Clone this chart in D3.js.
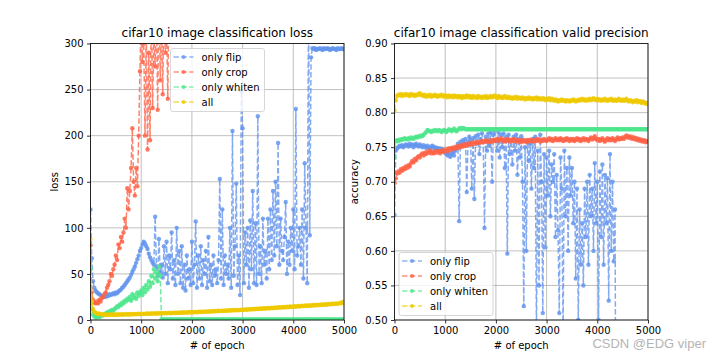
<!DOCTYPE html>
<html><head><meta charset="utf-8">
<script src="https://cdn.jsdelivr.net/npm/d3@7/dist/d3.min.js"></script>
<style>
html,body{margin:0;padding:0;background:#fff;}
svg{display:block;font-family:"DejaVu Sans",sans-serif;}
</style></head>
<body><svg id="c" width="720" height="360"></svg>
<script>
// ---------- data (epochs sampled every 25) ----------
const epochs = d3.range(0, 5001, 25);
const seriesNames = ["only flip", "only crop", "only whiten", "all"];
const seriesColors = ["#6495ED", "#FF6347", "#4EE68C", "#EEC900"];
const lossTicks = [0, 50, 100, 150, 200, 250, 300];
const accTicks = [0.50, 0.55, 0.60, 0.65, 0.70, 0.75, 0.80, 0.85, 0.90];
const epochTicks = [0, 1000, 2000, 3000, 4000, 5000];

const lossFlip = [
120,67,42,35,32,30,29,28,27,26,
25,26,25,27,26,28,27,28,29,28,
30,29,31,32,33,35,36,38,40,42,
44,46,49,52,55,58,62,66,70,75,
78,82,85,83,80,77,72,68,65,62,
60,112,58,48,88,52,60,46,80,50,
85,40,70,55,95,45,65,38,100,50,
75,40,80,35,60,32,70,45,55,38,
85,40,60,107,35,70,45,80,38,65,
50,75,35,90,42,60,38,70,48,55,
40,65,153,45,120,38,70,50,60,45,
100,35,205,48,80,148,38,70,27,248,
208,40,95,60,100,35,108,55,140,40,
105,38,221,50,80,40,110,60,75,45,
110,55,120,65,140,70,150,80,192,60,
110,75,65,90,128,50,85,60,100,75,
120,55,229,70,80,100,60,120,45,170,
100,40,350,92,285,295,294,295,293,294,
294,295,294,293,295,294,294,295,294,293,
294,295,294,294,293,295,294,294,295,294,
294];
const lossCrop = [
81,30,22,19,18,20,18,22,20,24,
25,28,30,35,38,42,50,48,55,60,
70,65,82,78,90,85,95,110,100,143,
120,140,165,208,150,135,165,145,200,270,
330,280,300,200,320,185,290,195,350,230,
310,275,340,228,380,260,330,245,360,290,
320,240,380,450,500,520,600,650,700,720,
750,780,800,820,850,870,900,920,950,980,
1000,1020,1050,1080,1100,1120,1150,1180,1200,1220,
1250,1270,1300,1320,1350,1370,1400,1420,1450,1470,
1500,1520,1550,1570,1600,1620,1650,1670,1700,1720,
1750,1770,1800,1820,1850,1870,1900,1920,1950,1970,
2000,2020,2050,2070,2100,2120,2150,2170,2200,2220,
2250,2270,2300,2320,2350,2370,2400,2420,2450,2470,
2500,2520,2550,2570,2600,2620,2650,2670,2700,2720,
2750,2770,2800,2820,2850,2870,2900,2920,2950,2970,
3000,3020,3050,3070,3100,3120,3150,3170,3200,3220,
3250,3270,3300,3320,3350,3370,3400,3420,3450,3470,
3500,3520,3550,3570,3600,3620,3650,3670,3700,3720,
3750,3770,3800,3820,3850,3870,3900,3920,3950,3970,
4000];
const lossWhiten = [
55,12,6,4,3,3,4,3,4,5,
5,6,7,8,9,8,10,11,10,12,
13,15,14,17,16,19,18,21,20,23,
22,25,21,28,24,27,23,30,26,29,
32,27,35,30,38,33,42,36,48,40,
55,45,52,42,58,48,0.5,0.5,0.5,0.5,
0.5,0.5,0.5,0.5,0.5,0.5,0.5,0.5,0.5,0.5,
0.5,0.5,0.5,0.5,0.5,0.5,0.5,0.5,0.5,0.5,
0.5,0.5,0.5,0.5,0.5,0.5,0.5,0.5,0.5,0.5,
0.5,0.5,0.5,0.5,0.5,0.5,0.5,0.5,0.5,0.5,
0.5,0.5,0.5,0.5,0.5,0.5,0.5,0.5,0.5,0.5,
0.5,0.5,0.5,0.5,0.5,0.5,0.5,0.5,0.5,0.5,
0.5,0.5,0.5,0.5,0.5,0.5,0.5,0.5,0.5,0.5,
0.5,0.5,0.5,0.5,0.5,0.5,0.5,0.5,0.5,0.5,
0.5,0.5,0.5,0.5,0.5,0.5,0.5,0.5,0.5,0.5,
0.5,0.5,0.5,0.5,0.5,0.5,0.5,0.5,0.5,0.5,
0.5,0.5,0.5,0.5,0.5,0.5,0.5,0.5,0.5,0.5,
0.5,0.5,0.5,0.5,0.5,0.5,0.5,0.5,0.5,0.5,
0.5,0.5,0.5,0.5,0.5,0.5,0.5,0.5,0.5,0.5,
0.5,0.5,0.5,0.5,0.5,0.5,0.5,0.5,0.5,0.5,
0.5];
const lossAll = [
88,20,12,9,8,7,7,6.5,6.5,6,
6,6,5.5,6,5.5,6,5.8,6,5.5,6,
6,5.5,6.2,5.8,6,6.3,5.8,6.1,6.4,6,
6.2,6,6.5,6.1,6.3,6.6,6.2,6.4,6.7,6.3,
6.5,6.8,6.4,6.6,7,6.7,6.9,7.1,6.8,7,
7.2,6.9,7.1,7.4,7,7.3,7.5,7.2,7.4,7.6,
7.3,7.5,7.8,7.4,7.6,7.9,7.5,7.8,8,7.7,
7.9,8.2,7.8,8.1,8.3,8,8.2,8.5,8.1,8.4,
8.6,8.2,8.5,8.8,8.4,8.7,9,8.6,8.9,9.1,
8.8,9.1,9.4,9,9.3,9.6,9.2,9.5,9.8,9.4,
9.7,10,9.6,9.9,10.2,9.8,10.1,10.4,10,10.3,
10.6,10.2,10.5,10.8,10.4,10.7,11,10.6,10.9,11.2,
10.8,11.1,11.5,11.1,11.4,11.8,11.3,11.7,12,11.6,
11.9,12.3,11.8,12.2,12.5,12.1,12.4,12.8,12.3,12.7,
13,12.6,12.9,13.3,12.8,13.2,13.6,13.1,13.5,13.8,
13.4,13.7,14.1,13.6,14,14.4,13.9,14.3,14.6,14.2,
14.5,14.9,14.4,14.8,15.2,14.7,15.1,15.5,15,15.4,
15.7,15.2,15.6,16,15.5,15.9,16.3,15.8,16.2,16.5,
16,16.4,16.8,16.3,16.7,17.1,16.6,17,17.4,16.9,
17.3,17.7,17.2,17.6,18,17.5,18,18.5,19,18.2,
20];

const accFlip = [
0.652,0.745,0.748,0.750,0.752,0.751,0.753,0.750,0.752,0.754,
0.753,0.751,0.755,0.752,0.754,0.750,0.753,0.755,0.752,0.751,
0.754,0.752,0.750,0.753,0.751,0.749,0.752,0.750,0.748,0.751,
0.752,0.749,0.750,0.747,0.749,0.746,0.748,0.745,0.747,0.744,
0.742,0.740,0.738,0.741,0.736,0.739,0.743,0.738,0.745,0.748,
0.755,0.643,0.758,0.752,0.760,0.755,0.762,0.685,0.758,0.765,
0.760,0.690,0.763,0.675,0.766,0.755,0.768,0.740,0.762,0.770,
0.758,0.633,0.765,0.745,0.770,0.752,0.772,0.700,0.768,0.775,
0.760,0.745,0.772,0.735,0.768,0.750,0.770,0.720,0.765,0.596,
0.768,0.740,0.760,0.725,0.765,0.745,0.768,0.710,0.762,0.735,
0.766,0.700,0.520,0.750,0.600,0.760,0.730,0.755,0.690,0.762,
0.720,0.765,0.480,0.745,0.550,0.768,0.700,0.510,0.740,0.605,
0.735,0.680,0.745,0.650,0.725,0.700,0.740,0.620,0.710,0.630,
0.510,0.735,0.690,0.480,0.745,0.650,0.720,0.600,0.735,0.680,
0.720,0.640,0.700,0.560,0.690,0.500,0.660,0.580,0.640,0.550,
0.690,0.620,0.700,0.580,0.710,0.650,0.690,0.600,0.727,0.640,
0.700,0.500,0.715,0.620,0.725,0.580,0.710,0.640,0.705,0.528,
0.740,0.600,0.700,0.585,0.660,0.100,0.100,0.100,0.100,0.100,
0.100,0.100,0.100,0.100,0.100,0.100,0.100,0.100,0.100,0.100,
0.100,0.100,0.100,0.100,0.100,0.100,0.100,0.100,0.100,0.100,
0.100];
const accCrop = [
0.698,0.705,0.712,0.715,0.713,0.718,0.716,0.720,0.718,0.722,
0.720,0.724,0.722,0.727,0.730,0.728,0.733,0.731,0.735,0.737,
0.735,0.739,0.741,0.738,0.742,0.740,0.744,0.742,0.745,0.741,
0.743,0.741,0.744,0.742,0.745,0.743,0.741,0.744,0.746,0.743,
0.745,0.747,0.744,0.748,0.746,0.749,0.747,0.750,0.748,0.751,
0.749,0.752,0.750,0.753,0.751,0.754,0.752,0.755,0.753,0.754,
0.756,0.754,0.757,0.755,0.757,0.756,0.758,0.756,0.757,0.759,
0.757,0.758,0.760,0.758,0.759,0.757,0.760,0.758,0.761,0.759,
0.760,0.762,0.759,0.761,0.763,0.760,0.758,0.761,0.759,0.762,
0.760,0.758,0.761,0.759,0.762,0.760,0.758,0.761,0.759,0.757,
0.760,0.758,0.761,0.759,0.757,0.760,0.758,0.761,0.759,0.760,
0.758,0.761,0.759,0.762,0.760,0.758,0.761,0.759,0.762,0.760,
0.759,0.761,0.763,0.760,0.762,0.759,0.761,0.763,0.760,0.762,
0.760,0.763,0.761,0.759,0.762,0.760,0.763,0.761,0.759,0.762,
0.760,0.762,0.759,0.761,0.763,0.760,0.762,0.759,0.761,0.763,
0.760,0.762,0.761,0.759,0.762,0.764,0.761,0.763,0.766,0.762,
0.760,0.762,0.759,0.761,0.763,0.760,0.758,0.761,0.763,0.760,
0.762,0.760,0.763,0.761,0.759,0.762,0.764,0.761,0.763,0.762,
0.764,0.762,0.765,0.767,0.764,0.766,0.763,0.765,0.762,0.764,
0.761,0.763,0.760,0.762,0.759,0.761,0.758,0.760,0.757,0.759,
0.758];
const accWhiten = [
0.735,0.758,0.760,0.759,0.761,0.760,0.762,0.761,0.763,0.762,
0.761,0.763,0.762,0.764,0.763,0.762,0.764,0.765,0.764,0.766,
0.765,0.767,0.766,0.768,0.770,0.772,0.775,0.774,0.773,0.772,
0.774,0.773,0.775,0.774,0.773,0.775,0.774,0.772,0.773,0.775,
0.774,0.772,0.774,0.776,0.775,0.773,0.775,0.777,0.774,0.773,
0.775,0.777,0.778,0.776,0.778,0.777,0.776,0.776,0.776,0.776,
0.776,0.776,0.776,0.776,0.776,0.776,0.776,0.776,0.776,0.776,
0.776,0.776,0.776,0.776,0.776,0.776,0.776,0.776,0.776,0.776,
0.776,0.776,0.776,0.776,0.776,0.776,0.776,0.776,0.776,0.776,
0.776,0.776,0.776,0.776,0.776,0.776,0.776,0.776,0.776,0.776,
0.776,0.776,0.776,0.776,0.776,0.776,0.776,0.776,0.776,0.776,
0.776,0.776,0.776,0.776,0.776,0.776,0.776,0.776,0.776,0.776,
0.776,0.776,0.776,0.776,0.776,0.776,0.776,0.776,0.776,0.776,
0.776,0.776,0.776,0.776,0.776,0.776,0.776,0.776,0.776,0.776,
0.776,0.776,0.776,0.776,0.776,0.776,0.776,0.776,0.776,0.776,
0.776,0.776,0.776,0.776,0.776,0.776,0.776,0.776,0.776,0.776,
0.776,0.776,0.776,0.776,0.776,0.776,0.776,0.776,0.776,0.776,
0.776,0.776,0.776,0.776,0.776,0.776,0.776,0.776,0.776,0.776,
0.776,0.776,0.776,0.776,0.776,0.776,0.776,0.776,0.776,0.776,
0.776,0.776,0.776,0.776,0.776,0.776,0.776,0.776,0.776,0.776,
0.776];
const accAll = [
0.803,0.818,0.824,0.826,0.825,0.827,0.824,0.826,0.825,0.827,
0.825,0.826,0.824,0.827,0.825,0.826,0.824,0.826,0.825,0.827,
0.828,0.825,0.826,0.824,0.826,0.823,0.825,0.824,0.826,0.823,
0.825,0.824,0.826,0.824,0.823,0.825,0.824,0.826,0.825,0.823,
0.825,0.824,0.822,0.825,0.823,0.824,0.822,0.825,0.823,0.824,
0.822,0.824,0.823,0.821,0.824,0.822,0.823,0.825,0.822,0.824,
0.823,0.821,0.824,0.822,0.823,0.821,0.824,0.822,0.823,0.821,
0.823,0.822,0.824,0.821,0.823,0.822,0.824,0.822,0.823,0.825,
0.823,0.821,0.824,0.822,0.823,0.821,0.822,0.824,0.822,0.821,
0.823,0.821,0.822,0.820,0.822,0.821,0.823,0.820,0.822,0.821,
0.820,0.822,0.821,0.819,0.821,0.820,0.822,0.820,0.821,0.819,
0.821,0.820,0.822,0.819,0.821,0.820,0.819,0.821,0.820,0.818,
0.820,0.819,0.821,0.818,0.820,0.819,0.817,0.819,0.818,0.816,
0.818,0.817,0.819,0.817,0.818,0.816,0.818,0.817,0.816,0.818,
0.817,0.819,0.818,0.816,0.818,0.817,0.819,0.818,0.820,0.818,
0.819,0.817,0.819,0.818,0.820,0.818,0.819,0.821,0.819,0.818,
0.820,0.818,0.819,0.817,0.819,0.818,0.820,0.818,0.817,0.819,
0.818,0.820,0.818,0.817,0.819,0.817,0.818,0.820,0.818,0.817,
0.819,0.817,0.818,0.820,0.817,0.816,0.818,0.817,0.815,0.817,
0.816,0.818,0.815,0.817,0.816,0.814,0.816,0.815,0.813,0.814,
0.812];

// ---------- drawing ----------
const svg = d3.select("#c");
const plotTop = 43.5, plotBottom = 320;

function panel(cfg) {
  const x = d3.scaleLinear().domain([0, 5000]).range([cfg.left, cfg.right]);
  const y = d3.scaleLinear().domain(cfg.ydomain).range([plotBottom, plotTop]);
  const g = svg.append("g");
  const clipId = "clip" + cfg.id;
  svg.append("clipPath").attr("id", clipId).append("rect")
    .attr("x", cfg.left).attr("y", plotTop).attr("width", cfg.right - cfg.left).attr("height", plotBottom - plotTop);

  // grid
  g.append("g").selectAll("line").data(epochTicks).join("line")
    .attr("x1", d => x(d)).attr("x2", d => x(d)).attr("y1", plotTop).attr("y2", plotBottom)
    .attr("stroke", "#b0b0b0").attr("stroke-width", 0.8);
  g.append("g").selectAll("line").data(cfg.yticks).join("line")
    .attr("x1", cfg.left).attr("x2", cfg.right).attr("y1", d => y(d)).attr("y2", d => y(d))
    .attr("stroke", "#b0b0b0").attr("stroke-width", 0.8);

  // series
  const plot = g.append("g").attr("clip-path", `url(#${clipId})`);
  cfg.series.forEach((vals, i) => {
    const pts = epochs.map((e, k) => [e, vals[k]]);
    const line = d3.line().x(d => x(d[0])).y(d => y(d[1]));
    const sg = plot.append("g");
    sg.append("path").attr("d", line(pts)).attr("fill", "none")
      .attr("stroke", seriesColors[i]).attr("stroke-width", 1.5)
      .attr("stroke-dasharray", "5.5,2.4").attr("stroke-opacity", 0.8);
    sg.selectAll("circle").data(pts).join("circle")
      .attr("cx", d => x(d[0])).attr("cy", d => y(d[1])).attr("r", 2.2)
      .attr("fill", seriesColors[i]).attr("fill-opacity", 0.85);
  });

  // axes
  const xa = g.append("g").attr("transform", `translate(0,${plotBottom})`)
    .call(d3.axisBottom(x).tickValues(epochTicks).tickSize(3.5).tickPadding(3.5).tickFormat(d3.format("d")));
  const ya = g.append("g").attr("transform", `translate(${cfg.left},0)`)
    .call(d3.axisLeft(y).tickValues(cfg.yticks).tickSize(3.5).tickPadding(3.5).tickFormat(cfg.fmt));
  [xa, ya].forEach(a => {
    a.select(".domain").remove();
    a.selectAll("text").attr("font-size", 10).attr("fill", "#000").attr("font-family", "DejaVu Sans");
    a.selectAll("line").attr("stroke", "#000").attr("stroke-width", 0.8);
  });
  g.append("rect").attr("x", cfg.left).attr("y", plotTop).attr("width", cfg.right - cfg.left)
    .attr("height", plotBottom - plotTop).attr("fill", "none").attr("stroke", "#000").attr("stroke-width", 0.8);

  // labels
  g.append("text").attr("x", (cfg.left + cfg.right) / 2).attr("y", 37)
    .attr("text-anchor", "middle").attr("font-size", 12).text(cfg.title);
  g.append("text").attr("x", (cfg.left + cfg.right) / 2).attr("y", 349)
    .attr("text-anchor", "middle").attr("font-size", 10).text("# of epoch");
  g.append("text").attr("transform", `translate(${cfg.ylabelX},${(plotTop + plotBottom) / 2}) rotate(-90)`)
    .attr("text-anchor", "middle").attr("font-size", 10).text(cfg.ylabel);

  // legend
  const lg = g.append("g").attr("transform", `translate(${cfg.legX},${cfg.legY})`);
  lg.append("rect").attr("width", 94).attr("height", 63).attr("rx", 2.5)
    .attr("fill", "#fff").attr("fill-opacity", 0.8).attr("stroke", "#cccccc").attr("stroke-width", 0.8);
  seriesNames.forEach((name, i) => {
    const yy = 8.5 + i * 15;
    lg.append("line").attr("x1", 3).attr("x2", 23).attr("y1", yy).attr("y2", yy)
      .attr("stroke", seriesColors[i]).attr("stroke-width", 1.5).attr("stroke-dasharray", "5.5,2.4")
      .attr("stroke-opacity", 0.7);
    lg.append("circle").attr("cx", 13).attr("cy", yy).attr("r", 2).attr("fill", seriesColors[i]).attr("fill-opacity", 0.8);
    lg.append("text").attr("x", 31).attr("y", yy + 3.6).attr("font-size", 10).text(name);
  });
}

panel({id: "L", left: 90.5, right: 344, ydomain: [0, 300], yticks: lossTicks, fmt: d3.format("d"),
  series: [lossFlip, lossCrop, lossWhiten, lossAll], title: "cifar10 image classification loss",
  ylabel: "loss", ylabelX: 58, legX: 170.5, legY: 48.5});
panel({id: "R", left: 394.5, right: 648, ydomain: [0.5, 0.9], yticks: accTicks, fmt: d3.format(".2f"),
  series: [accFlip, accCrop, accWhiten, accAll], title: "cifar10 image classification valid precision",
  ylabel: "accuracy", ylabelX: 358, legX: 399, legY: 252.5});

svg.append("text").attr("x", 706).attr("y", 348).attr("text-anchor", "end")
  .attr("font-size", 13).attr("fill", "#b4b4b4").attr("font-family", "Liberation Sans, Arial, sans-serif")
  .text("CSDN @EDG viper");
</script></body></html>
